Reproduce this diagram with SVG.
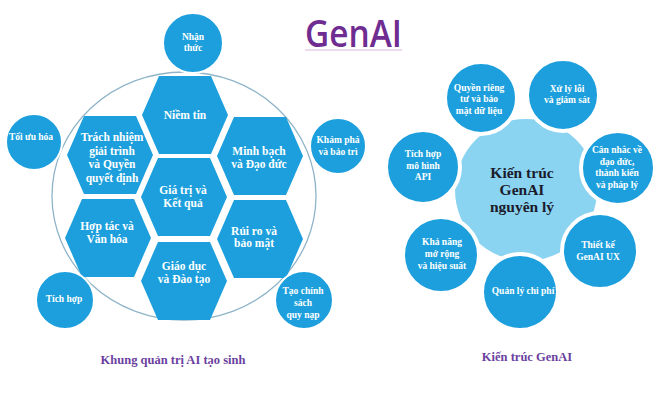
<svg xmlns="http://www.w3.org/2000/svg" width="664" height="402" viewBox="0 0 664 402">
<style>
.bg{fill:#ffffff}
.hex{fill:#1c9fdc}
.dot{fill:#1c9fdc;stroke:#ffffff;stroke-width:2}
.rdot{fill:#1c9fdc;stroke:#ffffff;stroke-width:4}
.ring{fill:none;stroke:#8fb4c8;stroke-width:1.3}
.core{fill:#8ad4f2}
.t{font-family:"Liberation Serif","Times New Roman",serif;font-weight:bold;fill:#ffffff;text-anchor:middle}
.h{font-size:11.5px}
.s{font-size:9.5px}
.c{font-family:"Liberation Serif","Times New Roman",serif;font-weight:bold;fill:#1b1b2b;text-anchor:middle;font-size:15.5px}
.cap{font-family:"Liberation Serif","Times New Roman",serif;font-weight:bold;fill:#6b3fa0;text-anchor:middle;font-size:12.5px}
.title{font-family:"Open Sans","Noto Sans","Liberation Sans",sans-serif;font-weight:600;fill:#6f2c91;font-size:38px}
</style>
<defs>
<polygon id="hx" points="-43,0 -26,-39 26,-39 43,0 26,39 -26,39"/>
</defs>
<rect class="bg" x="0" y="0" width="664" height="402"/>

<g id="title">
<text class="title" x="305" y="47" textLength="97" lengthAdjust="spacingAndGlyphs">GenAI</text>
<line x1="305" y1="50" x2="402" y2="50" stroke="#d9b6dc" stroke-width="1.2"/>
</g>

<g id="connectors">
<ellipse class="ring" cx="184" cy="196" rx="132" ry="124"/>
</g>

<!-- Left: hexagons -->
<g id="hex-niem-tin"><use href="#hx" class="hex" x="185" y="115"/>
<text class="t h" x="185" y="119">Niềm tin</text></g>
<g id="hex-trach-nhiem"><use href="#hx" class="hex" x="110" y="155"/>
<text class="t h" x="112" y="141">Trách nhiệm</text>
<text class="t h" x="112" y="155">giải trình</text>
<text class="t h" x="112" y="168">và Quyền</text>
<text class="t h" x="112" y="182">quyết định</text></g>
<g id="hex-minh-bach"><use href="#hx" class="hex" x="260" y="156"/>
<text class="t h" x="259" y="155">Minh bạch</text>
<text class="t h" x="259" y="168">và Đạo đức</text></g>
<g id="hex-gia-tri"><use href="#hx" class="hex" x="184" y="197"/>
<text class="t h" x="183" y="194">Giá trị và</text>
<text class="t h" x="183" y="207">Kết quả</text></g>
<g id="hex-hop-tac"><use href="#hx" class="hex" x="108" y="238"/>
<text class="t h" x="107" y="230">Hợp tác và</text>
<text class="t h" x="107" y="243">Văn hóa</text></g>
<g id="hex-rui-ro"><use href="#hx" class="hex" x="260" y="239"/>
<text class="t h" x="254" y="235">Rủi ro và</text>
<text class="t h" x="254" y="247">bảo mật</text></g>
<g id="hex-giao-duc"><use href="#hx" class="hex" x="184" y="281"/>
<text class="t h" x="184" y="270">Giáo dục</text>
<text class="t h" x="184" y="283">và Đào tạo</text></g>

<!-- Left: outer circles -->
<g id="c-nhan-thuc"><circle class="dot" cx="193" cy="43" r="30"/>
<text class="t s" x="193" y="40">Nhận</text>
<text class="t s" x="193" y="51">thức</text></g>
<g id="c-toi-uu"><circle class="dot" cx="34" cy="142" r="28"/>
<text class="t s" x="31" y="140">Tối ưu hóa</text></g>
<g id="c-kham-pha"><circle class="dot" cx="338" cy="146" r="28"/>
<text class="t s" x="338" y="143">Khám phá</text>
<text class="t s" x="338" y="155">và bảo trì</text></g>
<g id="c-tich-hop"><circle class="dot" cx="65" cy="300" r="29"/>
<text class="t s" x="64" y="302">Tích hợp</text></g>
<g id="c-tao-chinh-sach"><circle class="dot" cx="304" cy="300" r="29"/>
<text class="t s" x="303" y="294">Tạo chính</text>
<text class="t s" x="303" y="306">sách</text>
<text class="t s" x="303" y="318">quy nạp</text></g>

<text class="cap" x="173" y="364">Khung quản trị AI tạo sinh</text>

<!-- Right side -->
<g id="core"><circle class="core" cx="526" cy="190" r="71"/>
<text class="c" x="522" y="178">Kiến trúc</text>
<text class="c" x="522" y="195">GenAI</text>
<text class="c" x="522" y="212">nguyên lý</text></g>

<g id="r-quyen-rieng-tu"><circle class="rdot" cx="481" cy="98" r="36"/>
<text class="t s" x="479" y="91">Quyền riêng</text>
<text class="t s" x="479" y="102">tư và bảo</text>
<text class="t s" x="479" y="114">mật dữ liệu</text></g>
<g id="r-xu-ly-loi"><circle class="rdot" cx="563" cy="95" r="36"/>
<text class="t s" x="567" y="92">Xử lý lỗi</text>
<text class="t s" x="567" y="103">và giám sát</text></g>
<g id="r-tich-hop-api"><circle class="rdot" cx="423" cy="167" r="37"/>
<text class="t s" x="423" y="157">Tích hợp</text>
<text class="t s" x="423" y="169">mô hình</text>
<text class="t s" x="423" y="180">API</text></g>
<g id="r-can-nhac"><circle class="rdot" cx="618" cy="168" r="37"/>
<text class="t s" x="617" y="153">Cân nhắc về</text>
<text class="t s" x="617" y="165">đạo đức,</text>
<text class="t s" x="617" y="176">thành kiến</text>
<text class="t s" x="617" y="188">và pháp lý</text></g>
<g id="r-kha-nang"><circle class="rdot" cx="441" cy="255" r="38"/>
<text class="t s" x="442" y="245">Khả năng</text>
<text class="t s" x="442" y="257">mở rộng</text>
<text class="t s" x="442" y="269">và hiệu suất</text></g>
<g id="r-quan-ly-chi-phi"><circle class="rdot" cx="520" cy="292" r="38"/>
<text class="t s" x="523" y="294">Quản lý chi phí</text></g>
<g id="r-thiet-ke-ux"><circle class="rdot" cx="600" cy="251" r="38"/>
<text class="t s" x="598" y="248">Thiết kế</text>
<text class="t s" x="598" y="260">GenAI UX</text></g>

<text class="cap" x="527" y="361">Kiến trúc GenAI</text>
</svg>
